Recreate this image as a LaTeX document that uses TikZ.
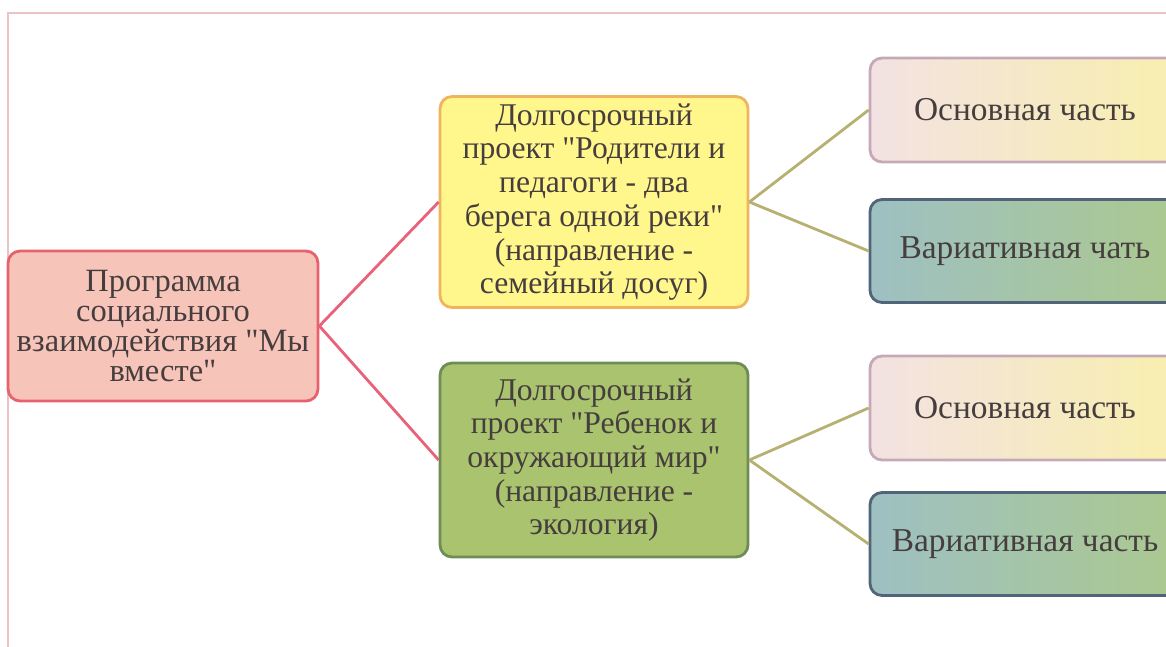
\documentclass[tikz,border=0pt]{standalone}
\usepackage{fontspec}
\setmainfont{Liberation Serif}[Ligatures=TeXReset]

\definecolor{txtcol}{HTML}{463E3E}
\definecolor{framecol}{HTML}{EBC3C6}
\definecolor{progfill}{HTML}{F7C4B9}
\definecolor{progdraw}{HTML}{E6626F}
\definecolor{yfill}{HTML}{FFF68C}
\definecolor{ydraw}{HTML}{F0B45E}
\definecolor{gfill}{HTML}{A9C36E}
\definecolor{gdraw}{HTML}{6E8C56}
\definecolor{ofillL}{HTML}{F3E2E2}
\definecolor{ofillR}{HTML}{F8EFAE}
\definecolor{odraw}{HTML}{C6A9B8}
\definecolor{vfillL}{HTML}{9EC0C2}
\definecolor{vfillR}{HTML}{ABC98F}
\definecolor{vdraw}{HTML}{51647A}
\definecolor{redline}{HTML}{E8627A}
\definecolor{oliveline}{HTML}{B6B071}

\begin{document}
\begin{tikzpicture}[x=0.02cm,y=-0.02cm,
  box/.style={rectangle,rounded corners=0.24cm,line width=1.6pt,align=center,
    text=txtcol,font=\fontsize{18}{19.2}\selectfont,inner sep=0pt},
  progbox/.style={box,fill=progfill,draw=progdraw,minimum width=6.2cm,minimum height=3cm,
    font=\fontsize{18.5}{17.2}\selectfont},
  ybox/.style={box,fill=yfill,draw=ydraw,minimum width=6.16cm,minimum height=4.22cm},
  gbox/.style={box,fill=gfill,draw=gdraw,minimum width=6.16cm,minimum height=3.88cm},
  obox/.style={box,left color=ofillL,right color=ofillR,draw=odraw,minimum width=6.2cm,minimum height=2.08cm,
    font=\fontsize{19}{19}\selectfont},
  vbox/.style={box,left color=vfillL,right color=vfillR,draw=vdraw,minimum width=6.2cm,minimum height=2.06cm,
    font=\fontsize{19}{19}\selectfont},
]
\useasboundingbox (0,0) rectangle (1166,646);
\clip (0,0) rectangle (1166,646);

%%%% frame
\draw[framecol,line width=0.8pt] (8,700) -- (8,13) -- (1200,13);

%%%% left
\node[progbox](prog) at(163,326) {Программа\\социального\\взаимодействия "Мы\\вместе"};

%%%% middle
\node[ybox](p1) at(594,202) {Долгосрочный\\проект "Родители и\\педагоги - два\\берега одной реки"\\(направление -\\семейный досуг)};
\node[gbox](p2) at(594,460) {Долгосрочный\\проект "Ребенок и\\окружающий мир"\\(направление -\\экология)};

%%%% right
\foreach \n/\s/\y/\t in{
o1/obox/110/Основная часть,v1/vbox/251/Вариативная чать,%
o2/obox/408/Основная часть,v2/vbox/544/Вариативная часть%
}{
\node[\s](\n) at(1025,\y) {\t};
}

\foreach \u \v in{
p1/prog,p2/prog%
}{
\draw[redline,line width=1.6pt] (\u.west) -- (prog.east);
}

\foreach \u \v in{
p1/o1,p1/v1,p2/o2,p2/v2%
}{
\draw[oliveline,line width=1.6pt] (\u.east) -- (\v.west);
}

\end{tikzpicture}
\end{document}
